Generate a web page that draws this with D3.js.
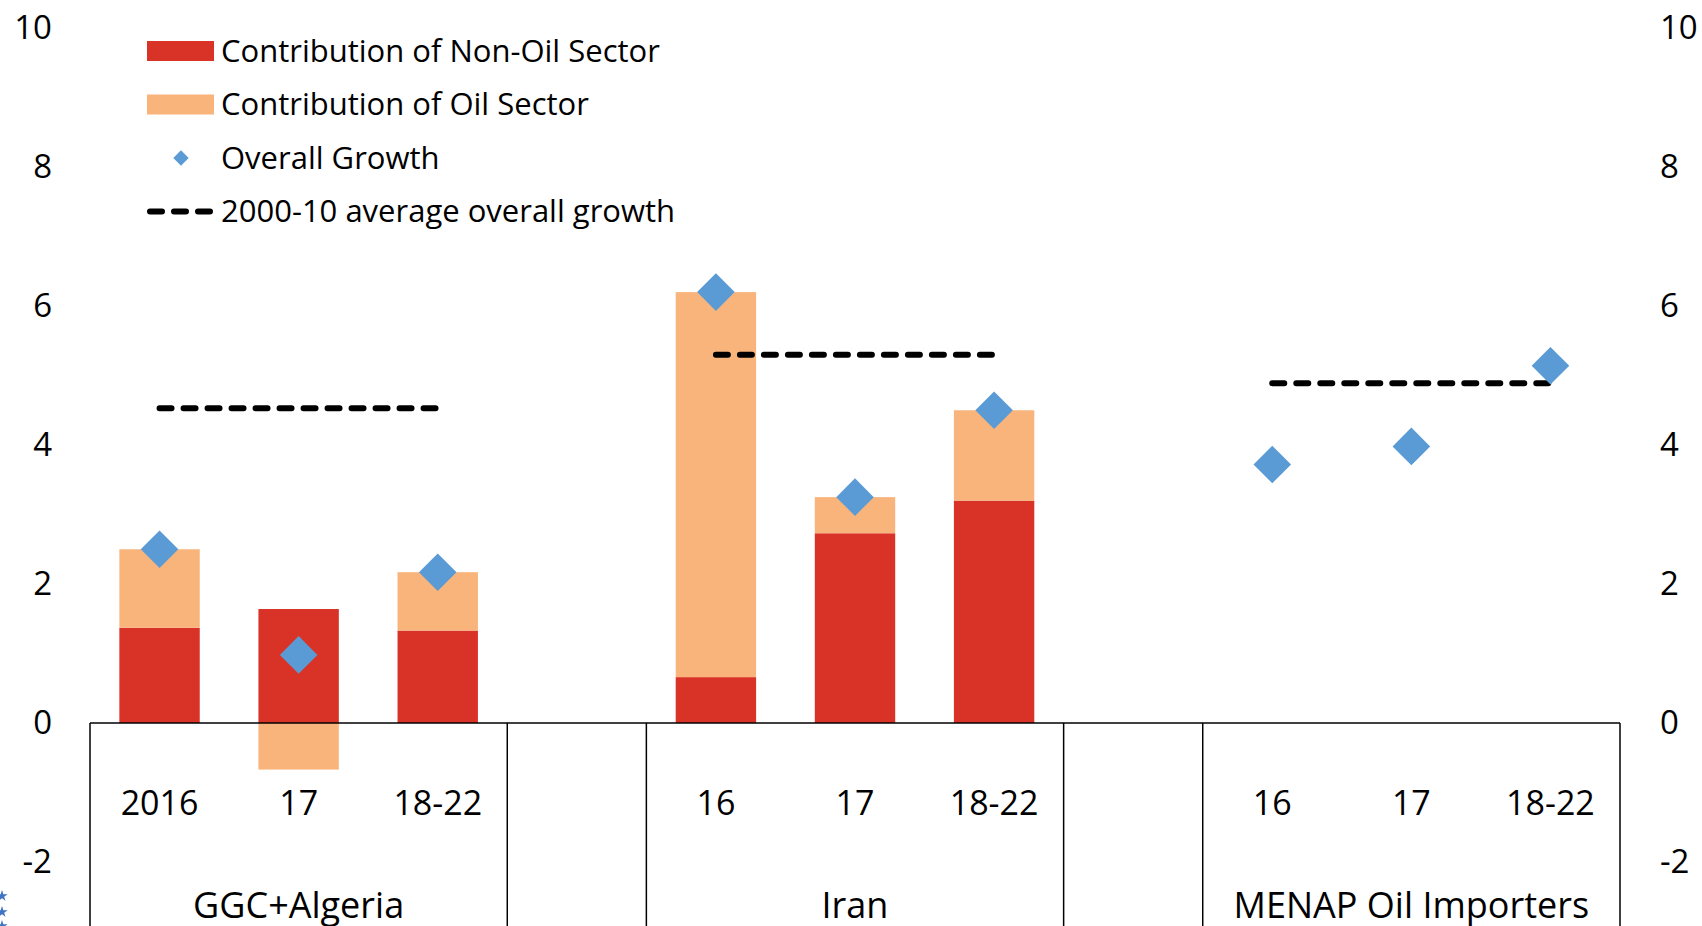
<!DOCTYPE html>
<html>
<head>
<meta charset="utf-8">
<script src="https://cdn.jsdelivr.net/npm/d3@7"></script>
<style>
  body { margin: 0; background: #fff; overflow: hidden; }
  svg { display: block; font-family: "Open Sans", "Noto Sans", sans-serif; }
</style>
</head>
<body>
<div id="chart"></div>
<script>
// 数据
const groups = ['GGC+Algeria', 'Iran', 'MENAP Oil Importers'];
const periods = [['2016', '17', '18-22'], ['16', '17', '18-22'], ['16', '17', '18-22']];
const nonOil = [[1.37, 1.64, 1.33], [0.66, 2.73, 3.2], [null, null, null]];
const oil = [[1.13, -0.67, 0.84], [5.54, 0.52, 1.3], [null, null, null]];
const overall = [[2.5, 0.98, 2.17], [6.2, 3.25, 4.5], [3.72, 3.98, 5.14]];
const avgGrowth = [4.53, 5.3, 4.89];
const yTicks = [-2, 0, 2, 4, 6, 8, 10];

const W = 1702, H = 926;
const colNonOil = '#d93227', colOil = '#f9b47b', colDot = '#5b9bd5';

const svg = d3.select('#chart').append('svg')
    .attr('width', W)
    .attr('height', H);

// 11个槽位: 3 + 间隔 + 3 + 间隔 + 3
const slots = [];
groups.forEach((g, gi) => {
    periods[gi].forEach((p, pi) => slots.push(`${gi}-${pi}`));
    if (gi < groups.length - 1) slots.push(`gap-${gi}`);
});

const x = d3.scaleBand().domain(slots).range([90, 1620]).paddingInner(0).paddingOuter(0);
const y = d3.scaleLinear().domain([-2, 10]).range([862, 28]);
const barW = x.bandwidth() * 0.578;

// 柱子数据
const rows = [];
groups.forEach((g, gi) => {
    periods[gi].forEach((p, pi) => {
        rows.push({
            key: `${gi}-${pi}`, label: p,
            nonOil: nonOil[gi][pi], oil: oil[gi][pi], overall: overall[gi][pi]
        });
    });
});

const cx = d => x(d.key) + x.bandwidth() / 2;

// 非石油部门
svg.selectAll('.bar-nonoil')
    .data(rows.filter(d => d.nonOil != null))
    .enter().append('rect')
    .attr('x', d => cx(d) - barW / 2)
    .attr('width', barW)
    .attr('y', d => y(Math.max(0, d.nonOil)))
    .attr('height', d => Math.abs(y(d.nonOil) - y(0)))
    .attr('fill', colNonOil);

// 石油部门 (正值叠在非石油上面, 负值在零线下面)
svg.selectAll('.bar-oil')
    .data(rows.filter(d => d.oil != null))
    .enter().append('rect')
    .attr('x', d => cx(d) - barW / 2)
    .attr('width', barW)
    .attr('y', d => d.oil >= 0 ? y(d.nonOil + d.oil) : y(0))
    .attr('height', d => d.oil >= 0 ? y(d.nonOil) - y(d.nonOil + d.oil) : y(d.oil) - y(0))
    .attr('fill', colOil);

// 2000-10平均增长虚线
groups.forEach((g, gi) => {
    const first = x(`${gi}-0`) + x.bandwidth() / 2;
    const last = x(`${gi}-2`) + x.bandwidth() / 2;
    svg.append('line')
        .attr('x1', first).attr('x2', last)
        .attr('y1', y(avgGrowth[gi])).attr('y2', y(avgGrowth[gi]))
        .attr('stroke', '#000')
        .attr('stroke-width', 6)
        .attr('stroke-linecap', 'round')
        .attr('stroke-dasharray', '12 12');
});

// 分类框: 只在组边界画竖线
const axisG = svg.append('g').attr('stroke', '#000').attr('stroke-width', 1.5);
axisG.append('line')
    .attr('x1', 90).attr('x2', 1620)
    .attr('y1', y(0)).attr('y2', y(0));
const bounds = [];
groups.forEach((g, gi) => {
    bounds.push(x(`${gi}-0`));
    bounds.push(x(`${gi}-2`) + x.bandwidth());
});
bounds.forEach(bx => {
    axisG.append('line')
        .attr('x1', bx).attr('x2', bx)
        .attr('y1', y(0)).attr('y2', H);
});

// 整体增长菱形
const diamond = d3.symbol().type(d3.symbolDiamond2).size(900);
svg.selectAll('.dot')
    .data(rows)
    .enter().append('path')
    .attr('d', diamond)
    .attr('transform', d => `translate(${cx(d)},${y(d.overall)})`)
    .attr('fill', colDot);

// 年份标签
svg.selectAll('.period')
    .data(rows)
    .enter().append('text')
    .attr('x', cx)
    .attr('y', 815)
    .attr('text-anchor', 'middle')
    .attr('font-size', 34)
    .text(d => d.label);

// 组标签
groups.forEach((g, gi) => {
    svg.append('text')
        .attr('x', x(`${gi}-1`) + x.bandwidth() / 2)
        .attr('y', 918)
        .attr('text-anchor', 'middle')
        .attr('font-size', 36)
        .text(g);
});

// 左右y轴
const fmt = d => String(d);
const yLeft = d3.axisLeft(y).tickValues(yTicks).tickFormat(fmt).tickSize(0).tickPadding(0);
svg.append('g')
    .attr('transform', 'translate(52,0)')
    .call(yLeft)
    .call(g => g.select('.domain').remove())
    .selectAll('text')
    .attr('font-size', 33)
    .attr('font-family', '"Open Sans", sans-serif')
    .attr('fill', '#000');

const yRight = d3.axisRight(y).tickValues(yTicks).tickFormat(fmt).tickSize(0).tickPadding(0);
svg.append('g')
    .attr('transform', 'translate(1660,0)')
    .call(yRight)
    .call(g => g.select('.domain').remove())
    .selectAll('text')
    .attr('font-size', 33)
    .attr('font-family', '"Open Sans", sans-serif')
    .attr('fill', '#000');

// 图例
const legend = [
    { name: 'Contribution of Non-Oil Sector', type: 'rect', color: colNonOil },
    { name: 'Contribution of Oil Sector', type: 'rect', color: colOil },
    { name: 'Overall Growth', type: 'diamond', color: colDot },
    { name: '2000-10 average overall growth', type: 'dash', color: '#000' }
];
const lg = svg.append('g').attr('transform', 'translate(147,51)');
legend.forEach((d, i) => {
    const row = lg.append('g').attr('transform', `translate(0,${i * 53.5})`);
    if (d.type === 'rect') {
        row.append('rect').attr('x', 0).attr('y', -10).attr('width', 67).attr('height', 20).attr('fill', d.color);
    } else if (d.type === 'diamond') {
        row.append('path').attr('d', d3.symbol().type(d3.symbolDiamond2).size(150))
            .attr('transform', 'translate(34,0)').attr('fill', d.color);
    } else {
        row.append('line').attr('x1', 3).attr('x2', 64).attr('y1', 0).attr('y2', 0)
            .attr('stroke', d.color).attr('stroke-width', 6)
            .attr('stroke-linecap', 'round').attr('stroke-dasharray', '12 12');
    }
    row.append('text')
        .attr('x', 74)
        .attr('y', 0)
        .attr('dy', '0.35em')
        .attr('font-size', 31)
        .text(d.name);
});

// 左下角徽标残影
const star = d3.symbol().type(d3.symbolStar).size(40);
[896, 912, 926].forEach(sy => {
    svg.append('path').attr('d', star).attr('transform', `translate(2,${sy})`).attr('fill', '#3f73c4');
});
</script>
</body>
</html>
